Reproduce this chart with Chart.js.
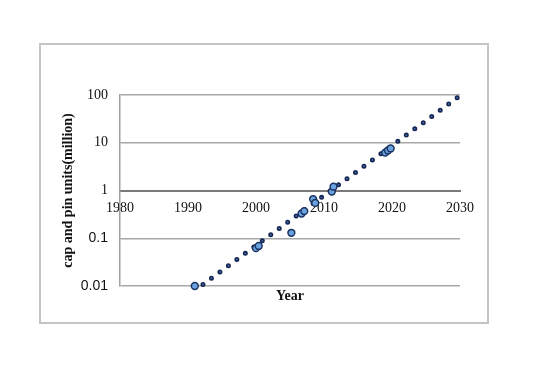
<!DOCTYPE html>
<html>
<head>
<meta charset="utf-8">
<script src="https://cdn.jsdelivr.net/npm/chart.js@4.4.1/dist/chart.umd.min.js"></script>
<style>
  html, body { margin: 0; padding: 0; background: #fff; }
  #moldura { position: absolute; left: 39px; top: 43px; width: 446px; height: 277px; border: 2px solid #c4c4c4; }
  #area { position: absolute; left: 0; top: 0; width: 538px; height: 380px; }
</style>
</head>
<body>
<div id="moldura"></div>
<div id="area"><canvas id="grafico" width="538" height="380"></canvas></div>
<script>
// medições (ano, unidades em milhões)
var anos = [1991.0, 2000.0, 2000.4, 2005.2, 2006.7, 2007.1, 2008.4, 2008.7, 2011.15, 2011.4, 2019.0, 2019.4, 2019.8]
var unidades = [0.010, 0.062, 0.069, 0.13, 0.33, 0.37, 0.66, 0.55, 0.95, 1.2, 6.2, 6.9, 7.6]

// linha de tendência pontilhada (início e fim)
var anosTendencia = [1992.2, 2029.6]
var unidadesTendencia = [0.0108, 88]
var pontosTendencia = 31

var ticksX = [1980, 1990, 2000, 2010, 2020, 2030]
var labelsX = ['1980', '1990', '2000', '2010', '2020', '2030']
var ticksY = [0.01, 0.1, 1, 10, 100]
var labelsY = ['0.01', '0.1', '1', '10', '100']

function toPoints(xs, ys) {
  return xs.map(function (x, i) { return { x: x, y: ys[i] } })
}

function tracoTendencia(ctx) {
  var sx = ctx.chart.scales.x
  var sy = ctx.chart.scales.y
  var dx = sx.getPixelForValue(anosTendencia[1]) - sx.getPixelForValue(anosTendencia[0])
  var dy = sy.getPixelForValue(unidadesTendencia[1]) - sy.getPixelForValue(unidadesTendencia[0])
  var passo = Math.hypot(dx, dy) / (pontosTendencia - 1) * 0.9995
  if (!isFinite(passo) || passo <= 0) return []
  return [0, passo]
}

var serif = 'Liberation Serif, serif'
var sans = 'Liberation Sans, Arial, sans-serif'

new Chart(document.getElementById('grafico'), {
  type: 'scatter',
  data: {
    datasets: [
      {
        data: toPoints(anos, unidades),
        pointRadius: 3.4,
        pointBorderWidth: 1.5,
        pointBackgroundColor: '#69a3e0',
        pointBorderColor: '#1c3260',
        clip: false,
        order: 0
      },
      {
        data: toPoints(anosTendencia, unidadesTendencia),
        showLine: true,
        pointRadius: 0,
        borderColor: '#3f6fb5',
        borderWidth: 1.8,
        borderCapStyle: 'round',
        borderDash: tracoTendencia,
        clip: false,
        order: 1
      },
      {
        data: toPoints(anosTendencia, unidadesTendencia),
        showLine: true,
        pointRadius: 0,
        borderColor: '#172650',
        borderWidth: 5,
        borderCapStyle: 'round',
        borderDash: tracoTendencia,
        clip: false,
        order: 2
      }
    ]
  },
  options: {
    responsive: false,
    animation: false,
    devicePixelRatio: 1,
    layout: { padding: { left: 0, top: 95, right: 78, bottom: 70 } },
    plugins: { legend: { display: false }, tooltip: { enabled: false } },
    scales: {
      x: {
        type: 'linear',
        position: { y: 1 },
        min: 1980,
        max: 2030,
        afterBuildTicks: function (scale) {
          scale.ticks = ticksX.map(function (v) { return { value: v } })
        },
        grid: { display: true, color: 'rgba(0,0,0,0)', drawTicks: false },
        border: { display: true, color: '#7a7a7a', width: 2 },
        ticks: {
          padding: 9,
          maxRotation: 0,
          autoSkip: false,
          color: '#111',
          font: { family: serif, size: 14 },
          callback: function (v, i) { return labelsX[i] }
        }
      },
      x2: {
        type: 'linear',
        position: 'bottom',
        min: 1980,
        max: 2030,
        afterFit: function (scale) { scale.height = 24 },
        grid: { display: false },
        border: { display: false },
        ticks: { display: false },
        title: {
          display: true,
          text: 'Year',
          color: '#111',
          font: { family: serif, size: 14, weight: 'bold', lineHeight: 1.2 },
          padding: { top: 0, bottom: 5 }
        }
      },
      y: {
        type: 'logarithmic',
        position: 'left',
        min: 0.01,
        max: 100,
        afterFit: function (scale) { scale.width = 120 },
        afterBuildTicks: function (scale) {
          scale.ticks = ticksY.map(function (v) { return { value: v } })
        },
        grid: { color: '#a8a8a8', lineWidth: 1.5, drawTicks: false },
        border: { display: true, color: '#a0a0a0', width: 1.5 },
        ticks: {
          padding: 12,
          color: '#111',
          font: function (ctx) {
            if (ctx.tick && ctx.tick.value < 1) return { family: sans, size: 14 }
            return { family: serif, size: 14 }
          },
          callback: function (v, i) { return labelsY[i] }
        },
        title: {
          display: true,
          text: 'cap and pin units(million)',
          color: '#111',
          font: { family: serif, size: 14, weight: 'bold', lineHeight: 1.2 },
          padding: { top: 60, bottom: 0 }
        }
      }
    }
  }
})
</script>
</body>
</html>
